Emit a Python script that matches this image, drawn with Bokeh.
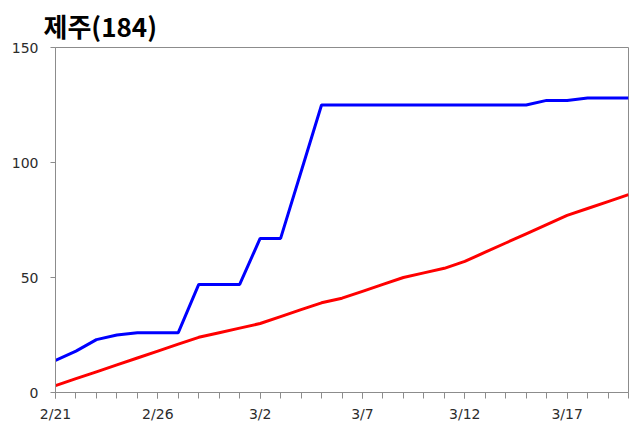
from bokeh.plotting import figure
from bokeh.models import FixedTicker, Range1d, ColumnDataSource
from bokeh.embed import file_html
from bokeh.resources import INLINE

# ---- data ----
title_text = "제주(184)"
dates = ["2/21", "2/22", "2/23", "2/24", "2/25", "2/26", "2/27", "2/28", "2/29",
         "3/1", "3/2", "3/3", "3/4", "3/5", "3/6", "3/7", "3/8", "3/9", "3/10",
         "3/11", "3/12", "3/13", "3/14", "3/15", "3/16", "3/17", "3/18", "3/19", "3/20"]
blue_values = [14, 18, 23, 25, 26, 26, 26, 47, 47, 47, 67, 67, 96, 125, 125, 125,
               125, 125, 125, 125, 125, 125, 125, 125, 127, 127, 128, 128, 128]
red_values = [3, 6, 9, 12, 15, 18, 21, 24, 26, 28, 30, 33, 36, 39, 41, 44, 47, 50,
              52, 54, 57, 61, 65, 69, 73, 77, 80, 83, 86]
x_tick_labels = ["2/21", "2/26", "3/2", "3/7", "3/12", "3/17"]
y_ticks = [0, 50, 100, 150]

idx = list(range(len(dates)))
src = ColumnDataSource(dict(x=idx, blue=blue_values, red=red_values, date=dates))

AX = "#8c8c8c"
TXT = "#2b2b2b"

p = figure(width=629, height=426, output_backend="svg", toolbar_location=None,
           x_range=Range1d(0, len(dates) - 1), y_range=Range1d(0, 150),
           min_border_left=55, min_border_right=1, min_border_top=47,
           min_border_bottom=34, title=title_text)

p.title.text_font = "Noto Sans CJK KR"
p.title.text_font_size = "26px"
p.title.text_font_style = "bold"
p.title.text_color = "#000000"
p.title.align = "left"
p.title.offset = -12
p.title.standoff = 8

p.line("x", "blue", source=src, line_color="#0000ff", line_width=3)
p.line("x", "red", source=src, line_color="#ff0000", line_width=3)

p.xgrid.visible = False
p.ygrid.visible = False
p.outline_line_color = AX
p.outline_line_width = 1
p.background_fill_color = "white"
p.border_fill_color = "white"

major_x = [dates.index(t) for t in x_tick_labels]
p.xaxis.ticker = FixedTicker(ticks=major_x, minor_ticks=idx)
p.xaxis.major_label_overrides = {i: dates[i] for i in major_x}
p.xaxis.axis_line_color = AX
p.xaxis.major_tick_line_color = AX
p.xaxis.minor_tick_line_color = AX
p.xaxis.major_tick_out = 6
p.xaxis.major_tick_in = 0
p.xaxis.minor_tick_out = 6
p.xaxis.minor_tick_in = 0
p.xaxis.major_label_text_font = "DejaVu Sans"
p.xaxis.major_label_text_font_size = "14px"
p.xaxis.major_label_text_color = TXT
p.xaxis.major_label_standoff = 7

p.yaxis.ticker = FixedTicker(ticks=y_ticks, minor_ticks=[])
p.yaxis.axis_line_color = AX
p.yaxis.major_tick_line_color = AX
p.yaxis.minor_tick_line_color = None
p.yaxis.major_tick_out = 5
p.yaxis.major_tick_in = 0
p.yaxis.major_label_text_font = "DejaVu Sans"
p.yaxis.major_label_text_font_size = "14px"
p.yaxis.major_label_text_color = TXT
p.yaxis.major_label_standoff = 12

open("out.html", "w").write(file_html(p, INLINE))
